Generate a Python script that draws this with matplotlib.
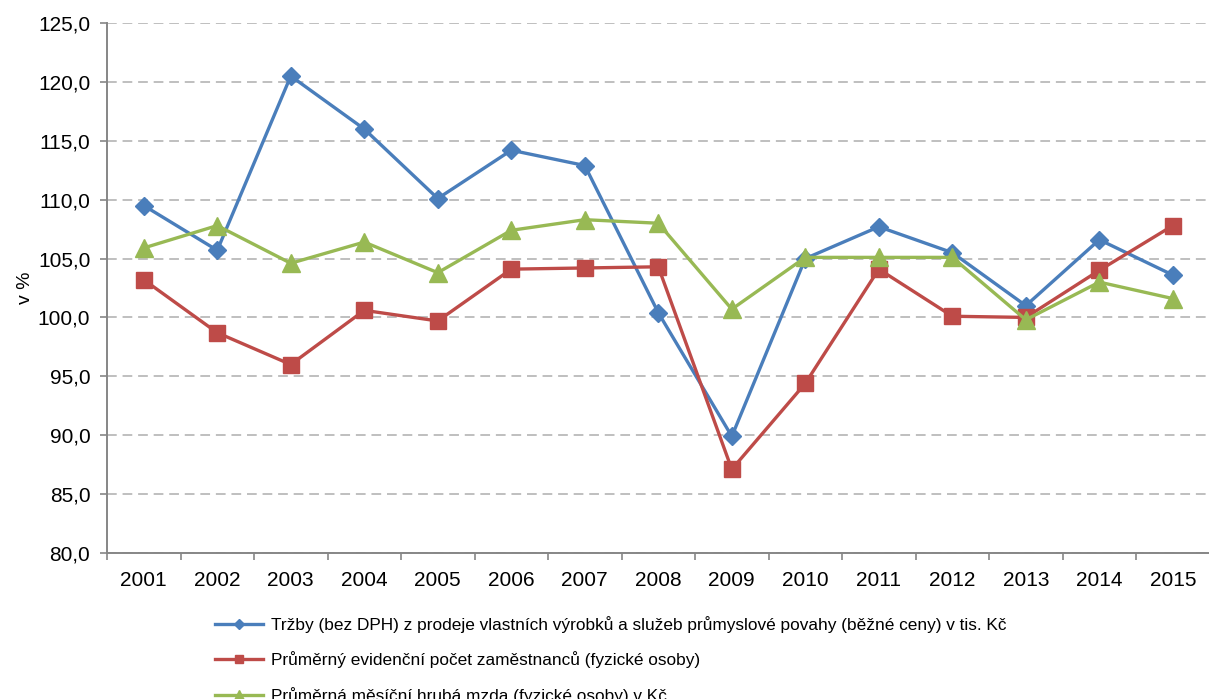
import matplotlib

matplotlib.use("Agg")

import matplotlib.pyplot as plt
import numpy as np

plt.rcParams["font.family"] = ["Liberation Sans", "DejaVu Sans"]

BLUE = "#4A7EBB"
RED = "#BE4B48"
GREEN = "#98B954"
GRID = "#BFBFBF"
AXIS = "#868686"

years = ["2001", "2002", "2003", "2004", "2005", "2006", "2007", "2008",
         "2009", "2010", "2011", "2012", "2013", "2014", "2015"]
trzby = [109.5, 105.7, 120.5, 116.0, 110.1, 114.2, 112.9, 100.4,
         89.9, 105.0, 107.7, 105.5, 101.0, 106.6, 103.6]
zamestnanci = [103.2, 98.7, 96.0, 100.6, 99.7, 104.1, 104.2, 104.3,
               87.1, 94.4, 104.1, 100.1, 100.0, 104.0, 107.8]
mzda = [105.9, 107.8, 104.6, 106.4, 103.8, 107.4, 108.3, 108.0,
        100.7, 105.1, 105.1, 105.1, 99.8, 103.0, 101.6]

labels = [
    "Tržby (bez DPH) z prodeje vlastních výrobků a služeb průmyslové povahy (běžné ceny) v tis. Kč",
    "Průměrný evidenční počet zaměstnanců (fyzické osoby)",
    "Průměrná měsíční hrubá mzda (fyzické osoby) v Kč",
]

fig = plt.figure(figsize=(12.09, 6.99), dpi=100)
ax = fig.add_axes([0.0885, 0.209, 0.912, 0.758])

x = np.arange(len(years))
ax.plot(x, trzby, color=BLUE, linewidth=2.4, marker="D", markersize=9, label=labels[0], zorder=3)
ax.plot(x, zamestnanci, color=RED, linewidth=2.4, marker="s", markersize=11.5, label=labels[1], zorder=3)
ax.plot(x, mzda, color=GREEN, linewidth=2.4, marker="^", markersize=12.5, label=labels[2], zorder=3)

ax.set_xlim(-0.5, len(years) - 0.5)
ax.set_ylim(80, 125)
ax.set_yticks(np.arange(80, 126, 5))
ax.set_yticklabels([f"{v:.1f}".replace(".", ",") for v in np.arange(80, 126, 5)])
ax.set_xticks(x)
ax.set_xticklabels(years)
ax.set_xticks(np.arange(-0.5, len(years), 1), minor=True)
ax.tick_params(axis="x", which="major", length=0, pad=13, labelsize=15)
ax.tick_params(axis="x", which="minor", length=5, color=AXIS, width=1.2, direction="out")
ax.tick_params(axis="y", length=5, color=AXIS, width=1.2, labelsize=15, pad=7)
ax.set_ylabel("v %", fontsize=14, labelpad=3)

ax.grid(True, axis="y", color=GRID, linestyle=(0, (5, 3)), linewidth=1.4)
ax.set_axisbelow(True)
for side in ("top", "right"):
    ax.spines[side].set_visible(False)
for side in ("left", "bottom"):
    ax.spines[side].set_color(AXIS)
    ax.spines[side].set_linewidth(1.4)

fig.legend(
    loc="center left",
    bbox_to_anchor=(0.171, 0.0558),
    frameon=False,
    fontsize=12.45,
    borderpad=0,
    handlelength=2.75,
    handletextpad=0.45,
    labelspacing=1.05,
    markerscale=0.55,
)

fig.savefig("out.png", dpi=100, facecolor="white")
